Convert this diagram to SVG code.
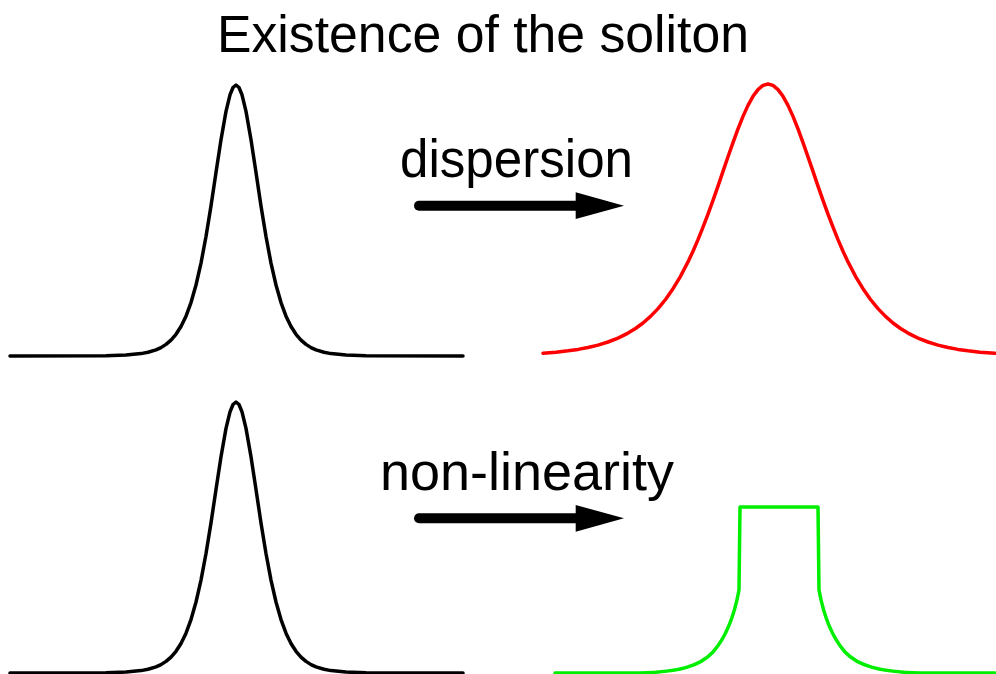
<svg xmlns="http://www.w3.org/2000/svg" width="996" height="674" viewBox="0 0 996 674">
<style>
.curve{fill:none;stroke-width:3.5;stroke-linejoin:round;stroke-linecap:round}
.lbl{font-family:"Liberation Sans",Arial,sans-serif;fill:#000}
.shaft{stroke:#000;stroke-width:10;stroke-linecap:round;fill:none}
.head{fill:#000}
</style>
<defs>
<polyline id="sech" points="10,356 106,355.75 126,355.1 141,353.6 148,352.3 156,349.9 161,347.6 166,344.4 171,340.1 176,334.3 181,326.5 186,316.2 191,302.6 196,285 201,263.1 206,236.5 211,205.9 216,172.6 221,139.8 226,111.4 230,94.9 233,87.5 236,85 239,87.5 242,94.9 246,111.4 251,139.8 256,172.6 261,205.9 266,236.5 271,263.1 276,285 281,302.6 286,316.2 291,326.5 296,334.3 301,340.1 306,344.4 311,347.6 316,349.9 324,352.3 331,353.6 346,355.1 366,355.75 463,356"/>
</defs>
<rect width="996" height="674" fill="#fff"/>
<g id="title">
<text class="lbl" x="217" y="52" font-size="51" textLength="532" lengthAdjust="spacingAndGlyphs">Existence of the soliton</text>
</g>
<g id="pulse-input-top">
<use href="#sech" class="curve" stroke="#000"/>
</g>
<g id="pulse-dispersed">
<polyline class="curve" stroke="#ff0000" points="543,353.2 556,352.2 568,350.8 578,349.4 588,347.5 598,345.1 608,342 618,338.1 628,333.1 635.5,328.5 643,323 650.5,316.4 658,308.6 665.5,299.5 673,288.7 680.5,276.3 688,261.9 693,251.2 698,239.6 703,227.2 708,214.1 713,200.3 718,186.1 723,171.4 728,156.8 733,142.6 738,128.9 743,116.4 748,105.4 753,96.3 758,89.6 763,85.4 768,84 773,85.4 778,89.6 783,96.3 788,105.4 793,116.4 798,128.9 803,142.6 808,156.8 813,171.4 818,186.1 823,200.3 828,214.1 833,227.2 838,239.6 843,251.2 848,261.9 855.5,276.3 863,288.7 870.5,299.5 878,308.6 885.5,316.4 893,323 900.5,328.5 908,333.1 918,338.1 928,342 938,345.1 948,347.5 958,349.4 968,350.8 980,352.2 995,353.3"/>
</g>
<g id="pulse-input-bottom">
<use href="#sech" class="curve" stroke="#000" transform="translate(0,317)"/>
</g>
<g id="pulse-nonlinear">
<path class="curve" stroke="#00ee00" d="M555,673 L640,673 C680,672 700,666 713,652 C728,635 735,612 739,590 L740,507 L818,507 L819,590 C823,612 830,635 845,652 C858,666 880,672 920,673 L995,673"/>
</g>
<g id="label-dispersion">
<text class="lbl" x="400" y="177" font-size="54" textLength="233" lengthAdjust="spacingAndGlyphs">dispersion</text>
</g>
<g id="label-nonlinearity">
<text class="lbl" x="380" y="490" font-size="53" textLength="294" lengthAdjust="spacingAndGlyphs">non-linearity</text>
</g>
<g id="connectors">
<line class="shaft" x1="419" y1="205.7" x2="582" y2="205.7"/>
<polygon class="head" points="575.7,192.3 624,205.7 575.7,219"/>
<line class="shaft" x1="419" y1="518.3" x2="582" y2="518.3"/>
<polygon class="head" points="575.7,505 624,518.3 575.7,531.7"/>
</g>
</svg>
